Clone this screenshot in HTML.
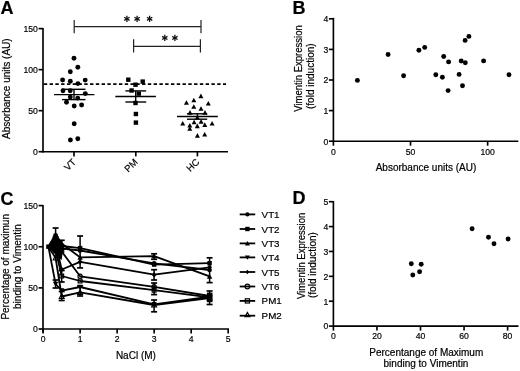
<!DOCTYPE html>
<html><head><meta charset="utf-8"><style>
html,body{margin:0;padding:0;background:#fff;}
body{width:520px;height:371px;overflow:hidden;}
svg{display:block;font-family:"Liberation Sans", sans-serif;will-change:transform;}
text{fill:#000;stroke:#000;stroke-width:0.2px;}
</style></head><body>
<svg width="520" height="371" viewBox="0 0 520 371">
<rect width="520" height="371" fill="#fff"/>
<text x="0.60" y="13.50" font-size="18" text-anchor="start" font-weight="bold" >A</text>
<text x="292.40" y="13.50" font-size="18" text-anchor="start" font-weight="bold" >B</text>
<text x="0.60" y="204.80" font-size="18" text-anchor="start" font-weight="bold" >C</text>
<text x="292.40" y="204.00" font-size="18" text-anchor="start" font-weight="bold" >D</text>
<line x1="43.00" y1="27.90" x2="43.00" y2="152.45" stroke="#000" stroke-width="1.65" />
<line x1="42.25" y1="151.70" x2="228.00" y2="151.70" stroke="#000" stroke-width="1.65" />
<line x1="38.60" y1="151.70" x2="43.00" y2="151.70" stroke="#000" stroke-width="1.65" />
<text x="0" y="0" transform="translate(37.80,155.00) scale(0.9,1)" font-size="9.6" text-anchor="end" font-weight="normal" >0</text>
<line x1="38.60" y1="110.66" x2="43.00" y2="110.66" stroke="#000" stroke-width="1.65" />
<text x="0" y="0" transform="translate(37.80,113.96) scale(0.9,1)" font-size="9.6" text-anchor="end" font-weight="normal" >50</text>
<line x1="38.60" y1="69.63" x2="43.00" y2="69.63" stroke="#000" stroke-width="1.65" />
<text x="0" y="0" transform="translate(37.80,72.93) scale(0.9,1)" font-size="9.6" text-anchor="end" font-weight="normal" >100</text>
<line x1="38.60" y1="28.59" x2="43.00" y2="28.59" stroke="#000" stroke-width="1.65" />
<text x="0" y="0" transform="translate(37.80,31.89) scale(0.9,1)" font-size="9.6" text-anchor="end" font-weight="normal" >150</text>
<line x1="74.00" y1="151.70" x2="74.00" y2="156.40" stroke="#000" stroke-width="1.65" />
<text x="0" y="0" font-size="9.5" text-anchor="end" transform="translate(76.60,162.6) rotate(-45)">VT</text>
<line x1="135.80" y1="151.70" x2="135.80" y2="156.40" stroke="#000" stroke-width="1.65" />
<text x="0" y="0" font-size="9.5" text-anchor="end" transform="translate(138.40,162.6) rotate(-45)">PM</text>
<line x1="197.40" y1="151.70" x2="197.40" y2="156.40" stroke="#000" stroke-width="1.65" />
<text x="0" y="0" font-size="9.5" text-anchor="end" transform="translate(200.00,162.6) rotate(-45)">HC</text>
<text x="0" y="0" font-size="10" text-anchor="middle" transform="translate(9.6,88.7) rotate(-90)">Absorbance units (AU)</text>
<line x1="43.00" y1="84.05" x2="226.00" y2="84.05" stroke="#000" stroke-width="1.8" stroke-dasharray="3.4 2.38" stroke-dashoffset="-0.8"/>
<line x1="74.20" y1="20.00" x2="74.20" y2="33.20" stroke="#222" stroke-width="1.2" />
<line x1="74.20" y1="26.60" x2="201.00" y2="26.60" stroke="#222" stroke-width="1.2" />
<line x1="201.00" y1="20.00" x2="201.00" y2="33.20" stroke="#222" stroke-width="1.2" />
<line x1="133.60" y1="39.30" x2="133.60" y2="52.50" stroke="#222" stroke-width="1.2" />
<line x1="133.60" y1="46.30" x2="200.40" y2="46.30" stroke="#222" stroke-width="1.2" />
<line x1="200.40" y1="39.30" x2="200.40" y2="52.50" stroke="#222" stroke-width="1.2" />
<line x1="126.90" y1="15.70" x2="126.90" y2="21.90" stroke="#111" stroke-width="1.3" />
<line x1="124.22" y1="17.25" x2="129.58" y2="20.35" stroke="#111" stroke-width="1.3" />
<line x1="124.22" y1="20.35" x2="129.58" y2="17.25" stroke="#111" stroke-width="1.3" />
<line x1="137.10" y1="15.70" x2="137.10" y2="21.90" stroke="#111" stroke-width="1.3" />
<line x1="134.42" y1="17.25" x2="139.78" y2="20.35" stroke="#111" stroke-width="1.3" />
<line x1="134.42" y1="20.35" x2="139.78" y2="17.25" stroke="#111" stroke-width="1.3" />
<line x1="149.60" y1="15.70" x2="149.60" y2="21.90" stroke="#111" stroke-width="1.3" />
<line x1="146.92" y1="17.25" x2="152.28" y2="20.35" stroke="#111" stroke-width="1.3" />
<line x1="146.92" y1="20.35" x2="152.28" y2="17.25" stroke="#111" stroke-width="1.3" />
<line x1="164.80" y1="34.80" x2="164.80" y2="41.00" stroke="#111" stroke-width="1.3" />
<line x1="162.12" y1="36.35" x2="167.48" y2="39.45" stroke="#111" stroke-width="1.3" />
<line x1="162.12" y1="39.45" x2="167.48" y2="36.35" stroke="#111" stroke-width="1.3" />
<line x1="174.90" y1="34.80" x2="174.90" y2="41.00" stroke="#111" stroke-width="1.3" />
<line x1="172.22" y1="36.35" x2="177.58" y2="39.45" stroke="#111" stroke-width="1.3" />
<line x1="172.22" y1="39.45" x2="177.58" y2="36.35" stroke="#111" stroke-width="1.3" />
<circle cx="74.00" cy="58.20" r="2.45" fill="#000" stroke="none" stroke-width="0"/>
<circle cx="77.80" cy="67.20" r="2.45" fill="#000" stroke="none" stroke-width="0"/>
<circle cx="70.30" cy="71.80" r="2.45" fill="#000" stroke="none" stroke-width="0"/>
<circle cx="62.60" cy="80.00" r="2.45" fill="#000" stroke="none" stroke-width="0"/>
<circle cx="70.30" cy="81.20" r="2.45" fill="#000" stroke="none" stroke-width="0"/>
<circle cx="77.90" cy="83.60" r="2.45" fill="#000" stroke="none" stroke-width="0"/>
<circle cx="85.20" cy="80.10" r="2.45" fill="#000" stroke="none" stroke-width="0"/>
<circle cx="63.00" cy="90.80" r="2.45" fill="#000" stroke="none" stroke-width="0"/>
<circle cx="70.20" cy="90.80" r="2.45" fill="#000" stroke="none" stroke-width="0"/>
<circle cx="85.30" cy="93.60" r="2.45" fill="#000" stroke="none" stroke-width="0"/>
<circle cx="70.30" cy="97.10" r="2.45" fill="#000" stroke="none" stroke-width="0"/>
<circle cx="77.70" cy="98.10" r="2.45" fill="#000" stroke="none" stroke-width="0"/>
<circle cx="66.50" cy="102.20" r="2.45" fill="#000" stroke="none" stroke-width="0"/>
<circle cx="74.20" cy="106.00" r="2.45" fill="#000" stroke="none" stroke-width="0"/>
<circle cx="81.60" cy="105.00" r="2.45" fill="#000" stroke="none" stroke-width="0"/>
<circle cx="74.20" cy="123.80" r="2.45" fill="#000" stroke="none" stroke-width="0"/>
<circle cx="70.40" cy="140.00" r="2.45" fill="#000" stroke="none" stroke-width="0"/>
<circle cx="77.80" cy="138.70" r="2.45" fill="#000" stroke="none" stroke-width="0"/>
<line x1="54.00" y1="94.60" x2="94.40" y2="94.60" stroke="#000" stroke-width="1.4" />
<line x1="62.00" y1="89.30" x2="85.50" y2="89.30" stroke="#000" stroke-width="1.4" />
<line x1="62.00" y1="99.60" x2="85.50" y2="99.60" stroke="#000" stroke-width="1.4" />
<line x1="74.00" y1="89.30" x2="74.00" y2="99.60" stroke="#000" stroke-width="1.4" />
<rect x="126.10" y="77.50" width="4.4" height="4.4" fill="#000" stroke="none" stroke-width="0"/>
<rect x="140.50" y="79.40" width="4.4" height="4.4" fill="#000" stroke="none" stroke-width="0"/>
<rect x="133.30" y="82.50" width="4.4" height="4.4" fill="#000" stroke="none" stroke-width="0"/>
<rect x="129.40" y="88.30" width="4.4" height="4.4" fill="#000" stroke="none" stroke-width="0"/>
<rect x="136.60" y="91.40" width="4.4" height="4.4" fill="#000" stroke="none" stroke-width="0"/>
<rect x="133.30" y="100.80" width="4.4" height="4.4" fill="#000" stroke="none" stroke-width="0"/>
<rect x="133.70" y="111.80" width="4.4" height="4.4" fill="#000" stroke="none" stroke-width="0"/>
<rect x="133.70" y="120.40" width="4.4" height="4.4" fill="#000" stroke="none" stroke-width="0"/>
<line x1="115.30" y1="96.50" x2="155.90" y2="96.50" stroke="#000" stroke-width="1.4" />
<line x1="125.40" y1="90.90" x2="146.20" y2="90.90" stroke="#000" stroke-width="1.4" />
<line x1="125.40" y1="102.00" x2="146.20" y2="102.00" stroke="#000" stroke-width="1.4" />
<line x1="135.70" y1="90.75" x2="135.70" y2="102.00" stroke="#000" stroke-width="1.4" />
<polygon points="200.90,93.57 198.40,98.17 203.40,98.17" fill="#000" stroke="none" stroke-width="0"/>
<polygon points="193.80,97.77 191.30,102.37 196.30,102.37" fill="#000" stroke="none" stroke-width="0"/>
<polygon points="186.40,100.17 183.90,104.77 188.90,104.77" fill="#000" stroke="none" stroke-width="0"/>
<polygon points="208.30,100.97 205.80,105.57 210.80,105.57" fill="#000" stroke="none" stroke-width="0"/>
<polygon points="193.80,104.27 191.30,108.87 196.30,108.87" fill="#000" stroke="none" stroke-width="0"/>
<polygon points="201.00,106.17 198.50,110.77 203.50,110.77" fill="#000" stroke="none" stroke-width="0"/>
<polygon points="190.00,110.07 187.50,114.67 192.50,114.67" fill="#000" stroke="none" stroke-width="0"/>
<polygon points="205.00,110.07 202.50,114.67 207.50,114.67" fill="#000" stroke="none" stroke-width="0"/>
<polygon points="197.30,114.97 194.80,119.57 199.80,119.57" fill="#000" stroke="none" stroke-width="0"/>
<polygon points="182.70,120.97 180.20,125.57 185.20,125.57" fill="#000" stroke="none" stroke-width="0"/>
<polygon points="194.10,119.77 191.60,124.37 196.60,124.37" fill="#000" stroke="none" stroke-width="0"/>
<polygon points="201.10,119.07 198.60,123.67 203.60,123.67" fill="#000" stroke="none" stroke-width="0"/>
<polygon points="212.10,120.97 209.60,125.57 214.60,125.57" fill="#000" stroke="none" stroke-width="0"/>
<polygon points="189.80,122.97 187.30,127.57 192.30,127.57" fill="#000" stroke="none" stroke-width="0"/>
<polygon points="197.30,123.57 194.80,128.17 199.80,128.17" fill="#000" stroke="none" stroke-width="0"/>
<polygon points="204.80,122.37 202.30,126.97 207.30,126.97" fill="#000" stroke="none" stroke-width="0"/>
<polygon points="189.80,126.17 187.30,130.77 192.30,130.77" fill="#000" stroke="none" stroke-width="0"/>
<polygon points="197.40,133.07 194.90,137.67 199.90,137.67" fill="#000" stroke="none" stroke-width="0"/>
<polygon points="204.70,131.97 202.20,136.57 207.20,136.57" fill="#000" stroke="none" stroke-width="0"/>
<line x1="177.00" y1="116.50" x2="217.80" y2="116.50" stroke="#000" stroke-width="1.4" />
<line x1="187.00" y1="113.80" x2="207.20" y2="113.80" stroke="#000" stroke-width="1.4" />
<line x1="187.00" y1="119.20" x2="207.20" y2="119.20" stroke="#000" stroke-width="1.4" />
<line x1="197.40" y1="113.80" x2="197.40" y2="119.20" stroke="#000" stroke-width="1.4" />
<line x1="333.40" y1="17.80" x2="333.40" y2="141.95" stroke="#000" stroke-width="1.65" />
<line x1="332.65" y1="141.20" x2="518.30" y2="141.20" stroke="#000" stroke-width="1.65" />
<line x1="328.90" y1="141.20" x2="333.40" y2="141.20" stroke="#000" stroke-width="1.65" />
<text x="0" y="0" transform="translate(328.20,144.50) scale(0.9,1)" font-size="9.6" text-anchor="end" font-weight="normal" >0</text>
<line x1="328.90" y1="110.60" x2="333.40" y2="110.60" stroke="#000" stroke-width="1.65" />
<text x="0" y="0" transform="translate(328.20,113.90) scale(0.9,1)" font-size="9.6" text-anchor="end" font-weight="normal" >1</text>
<line x1="328.90" y1="80.00" x2="333.40" y2="80.00" stroke="#000" stroke-width="1.65" />
<text x="0" y="0" transform="translate(328.20,83.30) scale(0.9,1)" font-size="9.6" text-anchor="end" font-weight="normal" >2</text>
<line x1="328.90" y1="49.40" x2="333.40" y2="49.40" stroke="#000" stroke-width="1.65" />
<text x="0" y="0" transform="translate(328.20,52.70) scale(0.9,1)" font-size="9.6" text-anchor="end" font-weight="normal" >3</text>
<line x1="328.90" y1="18.80" x2="333.40" y2="18.80" stroke="#000" stroke-width="1.65" />
<text x="0" y="0" transform="translate(328.20,22.10) scale(0.9,1)" font-size="9.6" text-anchor="end" font-weight="normal" >4</text>
<line x1="333.40" y1="141.20" x2="333.40" y2="145.70" stroke="#000" stroke-width="1.65" />
<text x="0" y="0" transform="translate(333.40,154.70) scale(0.9,1)" font-size="9.6" text-anchor="middle" font-weight="normal" >0</text>
<line x1="410.52" y1="141.20" x2="410.52" y2="145.70" stroke="#000" stroke-width="1.65" />
<text x="0" y="0" transform="translate(410.52,154.70) scale(0.9,1)" font-size="9.6" text-anchor="middle" font-weight="normal" >50</text>
<line x1="487.65" y1="141.20" x2="487.65" y2="145.70" stroke="#000" stroke-width="1.65" />
<text x="0" y="0" transform="translate(487.65,154.70) scale(0.9,1)" font-size="9.6" text-anchor="middle" font-weight="normal" >100</text>
<text x="426.00" y="171.10" font-size="10" text-anchor="middle" font-weight="normal" >Absorbance units (AU)</text>
<text x="0" y="0" font-size="10" text-anchor="middle" textLength="86.5" lengthAdjust="spacingAndGlyphs" transform="translate(302.0,68.5) rotate(-90)">Vimentin Expression</text>
<text x="0" y="0" font-size="10" text-anchor="middle" transform="translate(313.6,76.2) rotate(-90)">(fold induction)</text>
<circle cx="357.40" cy="80.40" r="2.45" fill="#000" stroke="none" stroke-width="0"/>
<circle cx="388.10" cy="54.50" r="2.45" fill="#000" stroke="none" stroke-width="0"/>
<circle cx="403.60" cy="75.70" r="2.45" fill="#000" stroke="none" stroke-width="0"/>
<circle cx="418.90" cy="50.20" r="2.45" fill="#000" stroke="none" stroke-width="0"/>
<circle cx="424.70" cy="47.40" r="2.45" fill="#000" stroke="none" stroke-width="0"/>
<circle cx="465.10" cy="40.40" r="2.45" fill="#000" stroke="none" stroke-width="0"/>
<circle cx="468.90" cy="36.40" r="2.45" fill="#000" stroke="none" stroke-width="0"/>
<circle cx="443.70" cy="56.50" r="2.45" fill="#000" stroke="none" stroke-width="0"/>
<circle cx="448.60" cy="61.90" r="2.45" fill="#000" stroke="none" stroke-width="0"/>
<circle cx="461.20" cy="61.00" r="2.45" fill="#000" stroke="none" stroke-width="0"/>
<circle cx="465.30" cy="62.70" r="2.45" fill="#000" stroke="none" stroke-width="0"/>
<circle cx="483.60" cy="60.90" r="2.45" fill="#000" stroke="none" stroke-width="0"/>
<circle cx="435.80" cy="74.80" r="2.45" fill="#000" stroke="none" stroke-width="0"/>
<circle cx="442.40" cy="77.30" r="2.45" fill="#000" stroke="none" stroke-width="0"/>
<circle cx="459.10" cy="74.40" r="2.45" fill="#000" stroke="none" stroke-width="0"/>
<circle cx="509.00" cy="74.80" r="2.45" fill="#000" stroke="none" stroke-width="0"/>
<circle cx="462.50" cy="85.80" r="2.45" fill="#000" stroke="none" stroke-width="0"/>
<circle cx="448.10" cy="90.60" r="2.45" fill="#000" stroke="none" stroke-width="0"/>
<line x1="333.40" y1="201.00" x2="333.40" y2="326.85" stroke="#000" stroke-width="1.65" />
<line x1="332.65" y1="326.10" x2="518.50" y2="326.10" stroke="#000" stroke-width="1.65" />
<line x1="328.90" y1="326.10" x2="333.40" y2="326.10" stroke="#000" stroke-width="1.65" />
<text x="0" y="0" transform="translate(328.20,329.40) scale(0.9,1)" font-size="9.6" text-anchor="end" font-weight="normal" >0</text>
<line x1="328.90" y1="301.22" x2="333.40" y2="301.22" stroke="#000" stroke-width="1.65" />
<text x="0" y="0" transform="translate(328.20,304.52) scale(0.9,1)" font-size="9.6" text-anchor="end" font-weight="normal" >1</text>
<line x1="328.90" y1="276.34" x2="333.40" y2="276.34" stroke="#000" stroke-width="1.65" />
<text x="0" y="0" transform="translate(328.20,279.64) scale(0.9,1)" font-size="9.6" text-anchor="end" font-weight="normal" >2</text>
<line x1="328.90" y1="251.46" x2="333.40" y2="251.46" stroke="#000" stroke-width="1.65" />
<text x="0" y="0" transform="translate(328.20,254.76) scale(0.9,1)" font-size="9.6" text-anchor="end" font-weight="normal" >3</text>
<line x1="328.90" y1="226.58" x2="333.40" y2="226.58" stroke="#000" stroke-width="1.65" />
<text x="0" y="0" transform="translate(328.20,229.88) scale(0.9,1)" font-size="9.6" text-anchor="end" font-weight="normal" >4</text>
<line x1="328.90" y1="201.70" x2="333.40" y2="201.70" stroke="#000" stroke-width="1.65" />
<text x="0" y="0" transform="translate(328.20,205.00) scale(0.9,1)" font-size="9.6" text-anchor="end" font-weight="normal" >5</text>
<line x1="333.40" y1="326.10" x2="333.40" y2="330.60" stroke="#000" stroke-width="1.65" />
<text x="0" y="0" transform="translate(333.40,339.40) scale(0.9,1)" font-size="9.6" text-anchor="middle" font-weight="normal" >0</text>
<line x1="376.95" y1="326.10" x2="376.95" y2="330.60" stroke="#000" stroke-width="1.65" />
<text x="0" y="0" transform="translate(376.95,339.40) scale(0.9,1)" font-size="9.6" text-anchor="middle" font-weight="normal" >20</text>
<line x1="420.50" y1="326.10" x2="420.50" y2="330.60" stroke="#000" stroke-width="1.65" />
<text x="0" y="0" transform="translate(420.50,339.40) scale(0.9,1)" font-size="9.6" text-anchor="middle" font-weight="normal" >40</text>
<line x1="464.05" y1="326.10" x2="464.05" y2="330.60" stroke="#000" stroke-width="1.65" />
<text x="0" y="0" transform="translate(464.05,339.40) scale(0.9,1)" font-size="9.6" text-anchor="middle" font-weight="normal" >60</text>
<line x1="507.60" y1="326.10" x2="507.60" y2="330.60" stroke="#000" stroke-width="1.65" />
<text x="0" y="0" transform="translate(507.60,339.40) scale(0.9,1)" font-size="9.6" text-anchor="middle" font-weight="normal" >80</text>
<text x="426.30" y="355.60" font-size="10" text-anchor="middle" font-weight="normal" >Percentange of Maximum</text>
<text x="426.00" y="367.00" font-size="10" text-anchor="middle" font-weight="normal" >binding to Vimentin</text>
<text x="0" y="0" font-size="10" text-anchor="middle" textLength="86.3" lengthAdjust="spacingAndGlyphs" transform="translate(305.0,255.9) rotate(-90)">Vimentin Expression</text>
<text x="0" y="0" font-size="10" text-anchor="middle" textLength="66" lengthAdjust="spacingAndGlyphs" transform="translate(316.4,265.05) rotate(-90)">(fold induction)</text>
<circle cx="411.30" cy="263.70" r="2.45" fill="#000" stroke="none" stroke-width="0"/>
<circle cx="421.20" cy="264.30" r="2.45" fill="#000" stroke="none" stroke-width="0"/>
<circle cx="419.60" cy="271.70" r="2.45" fill="#000" stroke="none" stroke-width="0"/>
<circle cx="412.80" cy="275.00" r="2.45" fill="#000" stroke="none" stroke-width="0"/>
<circle cx="472.10" cy="228.70" r="2.45" fill="#000" stroke="none" stroke-width="0"/>
<circle cx="488.50" cy="237.30" r="2.45" fill="#000" stroke="none" stroke-width="0"/>
<circle cx="494.00" cy="243.70" r="2.45" fill="#000" stroke="none" stroke-width="0"/>
<circle cx="508.10" cy="239.00" r="2.45" fill="#000" stroke="none" stroke-width="0"/>
<line x1="43.00" y1="205.00" x2="43.00" y2="332.50" stroke="#000" stroke-width="1.65" />
<line x1="42.25" y1="329.00" x2="228.95" y2="329.00" stroke="#000" stroke-width="1.65" />
<line x1="38.60" y1="329.00" x2="43.00" y2="329.00" stroke="#000" stroke-width="1.65" />
<text x="0" y="0" transform="translate(37.80,332.30) scale(0.9,1)" font-size="9.6" text-anchor="end" font-weight="normal" >0</text>
<line x1="38.60" y1="287.87" x2="43.00" y2="287.87" stroke="#000" stroke-width="1.65" />
<text x="0" y="0" transform="translate(37.80,291.17) scale(0.9,1)" font-size="9.6" text-anchor="end" font-weight="normal" >50</text>
<line x1="38.60" y1="246.73" x2="43.00" y2="246.73" stroke="#000" stroke-width="1.65" />
<text x="0" y="0" transform="translate(37.80,250.03) scale(0.9,1)" font-size="9.6" text-anchor="end" font-weight="normal" >100</text>
<line x1="38.60" y1="205.59" x2="43.00" y2="205.59" stroke="#000" stroke-width="1.65" />
<text x="0" y="0" transform="translate(37.80,208.90) scale(0.9,1)" font-size="9.6" text-anchor="end" font-weight="normal" >150</text>
<line x1="43.10" y1="329.00" x2="43.10" y2="333.50" stroke="#000" stroke-width="1.65" />
<text x="0" y="0" transform="translate(43.10,342.00) scale(0.9,1)" font-size="9.6" text-anchor="middle" font-weight="normal" >0</text>
<line x1="80.12" y1="329.00" x2="80.12" y2="333.50" stroke="#000" stroke-width="1.65" />
<text x="0" y="0" transform="translate(80.12,342.00) scale(0.9,1)" font-size="9.6" text-anchor="middle" font-weight="normal" >1</text>
<line x1="117.14" y1="329.00" x2="117.14" y2="333.50" stroke="#000" stroke-width="1.65" />
<text x="0" y="0" transform="translate(117.14,342.00) scale(0.9,1)" font-size="9.6" text-anchor="middle" font-weight="normal" >2</text>
<line x1="154.16" y1="329.00" x2="154.16" y2="333.50" stroke="#000" stroke-width="1.65" />
<text x="0" y="0" transform="translate(154.16,342.00) scale(0.9,1)" font-size="9.6" text-anchor="middle" font-weight="normal" >3</text>
<line x1="191.18" y1="329.00" x2="191.18" y2="333.50" stroke="#000" stroke-width="1.65" />
<text x="0" y="0" transform="translate(191.18,342.00) scale(0.9,1)" font-size="9.6" text-anchor="middle" font-weight="normal" >4</text>
<line x1="228.20" y1="329.00" x2="228.20" y2="333.50" stroke="#000" stroke-width="1.65" />
<text x="0" y="0" transform="translate(228.20,342.00) scale(0.9,1)" font-size="9.6" text-anchor="middle" font-weight="normal" >5</text>
<text x="135.90" y="359.40" font-size="10" text-anchor="middle" font-weight="normal" >NaCl (M)</text>
<text x="0" y="0" font-size="10" text-anchor="middle" transform="translate(8.6,266.8) rotate(-90)">Percentage of maximun</text>
<text x="0" y="0" font-size="10" text-anchor="middle" transform="translate(20.9,266.5) rotate(-90)">binding to Vimentin</text>
<polygon points="48.4,246.7 55.6,234 61.7,243.5 63,250 61.7,260 57.5,257 51,250" fill="#000"/>
<polyline points="48.40,246.70 55.60,234.30 61.70,243.50 80.10,257.40 154.10,256.10 209.60,276.40" fill="none" stroke="#000" stroke-width="1.8" stroke-linejoin="round"/>
<polyline points="48.40,246.70 55.60,236.00 61.70,246.00 80.10,248.10 154.10,264.60 209.60,263.20" fill="none" stroke="#000" stroke-width="1.8" stroke-linejoin="round"/>
<polyline points="48.40,246.70 55.60,239.00 61.70,248.50 80.10,250.50 154.10,263.40 209.60,270.00" fill="none" stroke="#000" stroke-width="1.8" stroke-linejoin="round"/>
<polyline points="48.40,246.70 55.60,243.00 61.70,269.50 80.10,261.80 154.10,274.70 209.60,267.30" fill="none" stroke="#000" stroke-width="1.8" stroke-linejoin="round"/>
<polyline points="48.40,246.70 55.60,246.00 61.70,251.50 80.10,276.30 154.10,286.80 209.60,296.00" fill="none" stroke="#000" stroke-width="1.8" stroke-linejoin="round"/>
<polyline points="48.40,246.70 55.60,250.00 61.70,276.00 80.10,281.00 154.10,290.20 209.60,297.30" fill="none" stroke="#000" stroke-width="1.8" stroke-linejoin="round"/>
<polyline points="48.40,246.70 55.60,284.00 61.70,290.60 80.10,287.00 154.10,304.30 209.60,296.60" fill="none" stroke="#000" stroke-width="1.8" stroke-linejoin="round"/>
<polyline points="48.40,246.70 55.60,258.00 61.70,296.50 80.10,292.40 154.10,305.00 209.60,298.00" fill="none" stroke="#000" stroke-width="1.8" stroke-linejoin="round"/>
<line x1="55.60" y1="228.00" x2="55.60" y2="237.00" stroke="#000" stroke-width="1.5" />
<line x1="52.60" y1="228.00" x2="58.60" y2="228.00" stroke="#000" stroke-width="1.7" />
<line x1="52.60" y1="237.00" x2="58.60" y2="237.00" stroke="#000" stroke-width="1.7" />
<line x1="61.70" y1="240.30" x2="61.70" y2="249.00" stroke="#000" stroke-width="1.5" />
<line x1="58.70" y1="240.30" x2="64.70" y2="240.30" stroke="#000" stroke-width="1.7" />
<line x1="58.70" y1="249.00" x2="64.70" y2="249.00" stroke="#000" stroke-width="1.7" />
<line x1="61.70" y1="270.50" x2="61.70" y2="282.00" stroke="#000" stroke-width="1.5" />
<line x1="58.70" y1="270.50" x2="64.70" y2="270.50" stroke="#000" stroke-width="1.7" />
<line x1="58.70" y1="282.00" x2="64.70" y2="282.00" stroke="#000" stroke-width="1.7" />
<line x1="61.70" y1="291.50" x2="61.70" y2="300.50" stroke="#000" stroke-width="1.5" />
<line x1="58.70" y1="291.50" x2="64.70" y2="291.50" stroke="#000" stroke-width="1.7" />
<line x1="58.70" y1="300.50" x2="64.70" y2="300.50" stroke="#000" stroke-width="1.7" />
<line x1="80.10" y1="236.00" x2="80.10" y2="267.90" stroke="#000" stroke-width="1.5" />
<line x1="77.10" y1="236.00" x2="83.10" y2="236.00" stroke="#000" stroke-width="1.7" />
<line x1="77.10" y1="267.90" x2="83.10" y2="267.90" stroke="#000" stroke-width="1.7" />
<line x1="154.10" y1="253.80" x2="154.10" y2="259.30" stroke="#000" stroke-width="1.5" />
<line x1="151.10" y1="253.80" x2="157.10" y2="253.80" stroke="#000" stroke-width="1.7" />
<line x1="151.10" y1="259.30" x2="157.10" y2="259.30" stroke="#000" stroke-width="1.7" />
<line x1="154.10" y1="269.70" x2="154.10" y2="280.00" stroke="#000" stroke-width="1.5" />
<line x1="151.10" y1="269.70" x2="157.10" y2="269.70" stroke="#000" stroke-width="1.7" />
<line x1="151.10" y1="280.00" x2="157.10" y2="280.00" stroke="#000" stroke-width="1.7" />
<line x1="154.10" y1="283.00" x2="154.10" y2="294.60" stroke="#000" stroke-width="1.5" />
<line x1="151.10" y1="283.00" x2="157.10" y2="283.00" stroke="#000" stroke-width="1.7" />
<line x1="151.10" y1="294.60" x2="157.10" y2="294.60" stroke="#000" stroke-width="1.7" />
<line x1="154.10" y1="300.00" x2="154.10" y2="311.80" stroke="#000" stroke-width="1.5" />
<line x1="151.10" y1="300.00" x2="157.10" y2="300.00" stroke="#000" stroke-width="1.7" />
<line x1="151.10" y1="311.80" x2="157.10" y2="311.80" stroke="#000" stroke-width="1.7" />
<line x1="209.60" y1="257.80" x2="209.60" y2="282.60" stroke="#000" stroke-width="1.5" />
<line x1="206.60" y1="257.80" x2="212.60" y2="257.80" stroke="#000" stroke-width="1.7" />
<line x1="206.60" y1="282.60" x2="212.60" y2="282.60" stroke="#000" stroke-width="1.7" />
<line x1="209.60" y1="291.00" x2="209.60" y2="304.50" stroke="#000" stroke-width="1.5" />
<line x1="206.60" y1="291.00" x2="212.60" y2="291.00" stroke="#000" stroke-width="1.7" />
<line x1="206.60" y1="304.50" x2="212.60" y2="304.50" stroke="#000" stroke-width="1.7" />
<line x1="80.10" y1="286.00" x2="80.10" y2="296.00" stroke="#000" stroke-width="1.5" />
<line x1="77.10" y1="286.00" x2="83.10" y2="286.00" stroke="#000" stroke-width="1.7" />
<line x1="77.10" y1="296.00" x2="83.10" y2="296.00" stroke="#000" stroke-width="1.7" />
<line x1="55.60" y1="280.00" x2="55.60" y2="288.00" stroke="#000" stroke-width="1.5" />
<line x1="52.60" y1="280.00" x2="58.60" y2="280.00" stroke="#000" stroke-width="1.7" />
<line x1="52.60" y1="288.00" x2="58.60" y2="288.00" stroke="#000" stroke-width="1.7" />
<polygon points="55.60,255.58 53.20,259.98 58.00,259.98" fill="none" stroke="#000" stroke-width="1.2"/>
<polygon points="61.70,294.08 59.30,298.48 64.10,298.48" fill="none" stroke="#000" stroke-width="1.2"/>
<polygon points="80.10,289.98 77.70,294.38 82.50,294.38" fill="none" stroke="#000" stroke-width="1.2"/>
<polygon points="154.10,302.58 151.70,306.98 156.50,306.98" fill="none" stroke="#000" stroke-width="1.2"/>
<polygon points="209.60,295.58 207.20,299.98 212.00,299.98" fill="none" stroke="#000" stroke-width="1.2"/>
<rect x="53.70" y="248.10" width="3.8" height="3.8" fill="none" stroke="#000" stroke-width="1.2"/>
<rect x="59.80" y="274.10" width="3.8" height="3.8" fill="none" stroke="#000" stroke-width="1.2"/>
<rect x="78.20" y="279.10" width="3.8" height="3.8" fill="none" stroke="#000" stroke-width="1.2"/>
<rect x="152.20" y="288.30" width="3.8" height="3.8" fill="none" stroke="#000" stroke-width="1.2"/>
<rect x="207.70" y="295.40" width="3.8" height="3.8" fill="none" stroke="#000" stroke-width="1.2"/>
<circle cx="55.60" cy="246.00" r="2.1" fill="none" stroke="#000" stroke-width="1.2"/>
<circle cx="61.70" cy="251.50" r="2.1" fill="none" stroke="#000" stroke-width="1.2"/>
<circle cx="80.10" cy="276.30" r="2.1" fill="none" stroke="#000" stroke-width="1.2"/>
<circle cx="154.10" cy="286.80" r="2.1" fill="none" stroke="#000" stroke-width="1.2"/>
<circle cx="209.60" cy="296.00" r="2.1" fill="none" stroke="#000" stroke-width="1.2"/>
<polygon points="55.60,286.75 52.90,281.75 58.30,281.75" fill="#000" stroke="none" stroke-width="0"/>
<polygon points="61.70,293.35 59.00,288.35 64.40,288.35" fill="#000" stroke="none" stroke-width="0"/>
<polygon points="80.10,289.75 77.40,284.75 82.80,284.75" fill="#000" stroke="none" stroke-width="0"/>
<polygon points="154.10,307.05 151.40,302.05 156.80,302.05" fill="#000" stroke="none" stroke-width="0"/>
<polygon points="209.60,299.35 206.90,294.35 212.30,294.35" fill="#000" stroke="none" stroke-width="0"/>
<polygon points="55.6,240.2 58.0,243.0 55.6,245.8 53.2,243.0" fill="#000"/>
<polygon points="61.7,266.7 64.10000000000001,269.5 61.7,272.3 59.300000000000004,269.5" fill="#000"/>
<polygon points="80.1,259.0 82.5,261.8 80.1,264.6 77.69999999999999,261.8" fill="#000"/>
<polygon points="154.1,271.9 156.5,274.7 154.1,277.5 151.7,274.7" fill="#000"/>
<polygon points="209.6,264.5 212.0,267.3 209.6,270.1 207.2,267.3" fill="#000"/>
<circle cx="55.60" cy="239.00" r="2.3" fill="#000" stroke="none" stroke-width="0"/>
<circle cx="61.70" cy="248.50" r="2.3" fill="#000" stroke="none" stroke-width="0"/>
<circle cx="80.10" cy="250.50" r="2.3" fill="#000" stroke="none" stroke-width="0"/>
<circle cx="154.10" cy="263.40" r="2.3" fill="#000" stroke="none" stroke-width="0"/>
<circle cx="209.60" cy="270.00" r="2.3" fill="#000" stroke="none" stroke-width="0"/>
<polygon points="55.60,231.55 52.90,236.55 58.30,236.55" fill="#000" stroke="none" stroke-width="0"/>
<polygon points="61.70,240.75 59.00,245.75 64.40,245.75" fill="#000" stroke="none" stroke-width="0"/>
<polygon points="80.10,254.65 77.40,259.65 82.80,259.65" fill="#000" stroke="none" stroke-width="0"/>
<polygon points="154.10,253.35 151.40,258.35 156.80,258.35" fill="#000" stroke="none" stroke-width="0"/>
<polygon points="209.60,273.65 206.90,278.65 212.30,278.65" fill="#000" stroke="none" stroke-width="0"/>
<rect x="46.20" y="244.50" width="4.4" height="4.4" fill="#000" stroke="none" stroke-width="0"/>
<rect x="53.40" y="233.80" width="4.4" height="4.4" fill="#000" stroke="none" stroke-width="0"/>
<rect x="59.50" y="243.80" width="4.4" height="4.4" fill="#000" stroke="none" stroke-width="0"/>
<rect x="77.90" y="245.90" width="4.4" height="4.4" fill="#000" stroke="none" stroke-width="0"/>
<rect x="151.90" y="262.40" width="4.4" height="4.4" fill="#000" stroke="none" stroke-width="0"/>
<rect x="207.40" y="261.00" width="4.4" height="4.4" fill="#000" stroke="none" stroke-width="0"/>
<rect x="206.9" y="292.6" width="5.6" height="9.6" fill="#000"/>
<line x1="239.70" y1="214.40" x2="255.20" y2="214.40" stroke="#000" stroke-width="1.8" />
<circle cx="247.40" cy="214.40" r="2.1" fill="#000" stroke="none" stroke-width="0"/>
<text x="261.60" y="217.90" font-size="9.8" text-anchor="start" font-weight="normal" >VT1</text>
<line x1="239.70" y1="229.00" x2="255.20" y2="229.00" stroke="#000" stroke-width="1.8" />
<rect x="245.20" y="226.80" width="4.4" height="4.4" fill="#000" stroke="none" stroke-width="0"/>
<text x="261.60" y="232.50" font-size="9.8" text-anchor="start" font-weight="normal" >VT2</text>
<line x1="239.70" y1="243.40" x2="255.20" y2="243.40" stroke="#000" stroke-width="1.8" />
<polygon points="247.40,240.98 244.90,245.38 249.90,245.38" fill="#000" stroke="none" stroke-width="0"/>
<text x="261.60" y="246.90" font-size="9.8" text-anchor="start" font-weight="normal" >VT3</text>
<line x1="239.70" y1="257.40" x2="255.20" y2="257.40" stroke="#000" stroke-width="1.8" />
<polygon points="247.40,259.82 244.90,255.42 249.90,255.42" fill="#000" stroke="none" stroke-width="0"/>
<text x="261.60" y="260.90" font-size="9.8" text-anchor="start" font-weight="normal" >VT4</text>
<line x1="239.70" y1="272.00" x2="255.20" y2="272.00" stroke="#000" stroke-width="1.8" />
<polygon points="247.4,269.8 249.2,272.0 247.4,274.2 245.6,272.0" fill="#000"/>
<text x="261.60" y="275.50" font-size="9.8" text-anchor="start" font-weight="normal" >VT5</text>
<line x1="239.70" y1="286.50" x2="255.20" y2="286.50" stroke="#000" stroke-width="1.8" />
<circle cx="247.40" cy="286.50" r="2.3" fill="none" stroke="#000" stroke-width="1.2"/>
<text x="261.60" y="290.00" font-size="9.8" text-anchor="start" font-weight="normal" >VT6</text>
<line x1="239.70" y1="300.90" x2="255.20" y2="300.90" stroke="#000" stroke-width="1.8" />
<rect x="245.30" y="298.80" width="4.2" height="4.2" fill="none" stroke="#000" stroke-width="1.2"/>
<text x="261.60" y="304.40" font-size="9.8" text-anchor="start" font-weight="normal" >PM1</text>
<line x1="239.70" y1="315.70" x2="255.20" y2="315.70" stroke="#000" stroke-width="1.8" />
<polygon points="247.40,312.49 245.00,316.69 249.80,316.69" fill="none" stroke="#000" stroke-width="1.2"/>
<text x="261.60" y="319.20" font-size="9.8" text-anchor="start" font-weight="normal" >PM2</text>
</svg>
</body></html>
